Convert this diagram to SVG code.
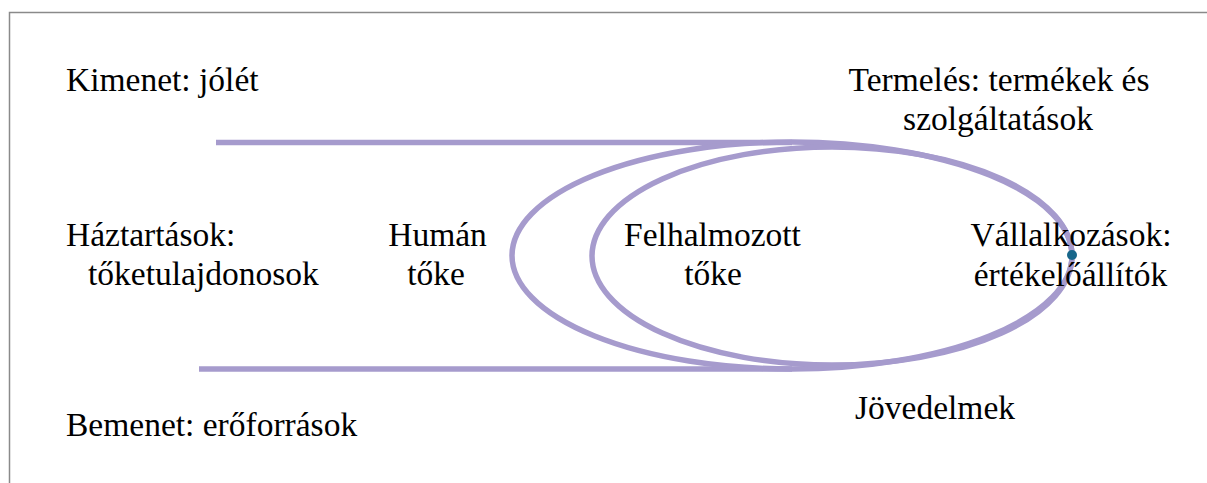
<svg xmlns="http://www.w3.org/2000/svg" width="1207" height="483" viewBox="0 0 1207 483">
<style>
.t{font-family:'Liberation Serif',Tinos,'Times New Roman','DejaVu Serif',serif;font-size:33.5px;fill:#000}
.c{text-anchor:middle}
.s{fill:none;stroke:#A69BCD;stroke-width:5.5}
</style>
<rect width="1207" height="483" fill="#fff"/>
<g id="frame" fill="none" stroke="#8a8a8a" stroke-width="1.5">
<path d="M9.5 483 V12.5 H1207"/>
</g>
<g id="connectors">
<line class="s" x1="216" y1="142.5" x2="792" y2="142.5"/>
<line class="s" x1="199" y1="369" x2="792" y2="369"/>
<ellipse class="s" cx="792" cy="255.5" rx="280" ry="113.5"/>
<ellipse class="s" cx="832" cy="256" rx="240" ry="109"/>
<circle cx="1072" cy="255" r="5" fill="#17668A"/>
</g>
<g id="kimenet"><text class="t" x="66" y="90.5">Kimenet: jólét</text></g>
<g id="termeles"><text class="t c" x="999" y="90.5">Termelés: termékek és</text><text class="t c" x="998" y="130">szolgáltatások</text></g>
<g id="haztartasok"><text class="t" x="66" y="246">Háztartások:</text><text class="t" x="88" y="285">tőketulajdonosok</text></g>
<g id="human"><text class="t c" x="437.5" y="246">Humán</text><text class="t c" x="436" y="285">tőke</text></g>
<g id="felhalmozott"><text class="t c" x="712.5" y="245.5">Felhalmozott</text><text class="t c" x="713" y="285">tőke</text></g>
<g id="vallalkozasok"><text class="t c" x="1071" y="245.5">Vállalkozások:</text><text class="t c" x="1070.5" y="285.5">értékelőállítók</text></g>
<g id="jovedelmek"><text class="t" x="855" y="419">Jövedelmek</text></g>
<g id="bemenet"><text class="t" x="66" y="436">Bemenet: erőforrások</text></g>
</svg>
